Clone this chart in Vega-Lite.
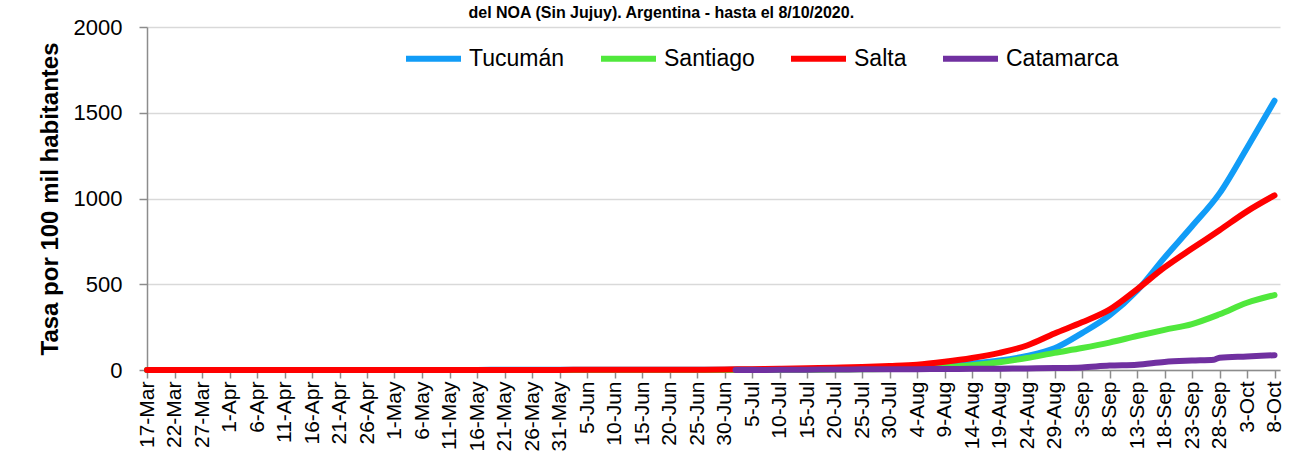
{
  "$schema": "https://vega.github.io/schema/vega-lite/v6.json",
  "autosize": {"type": "none"},
  "width": 1133,
  "height": 343,
  "padding": {"left": 147, "top": 27, "right": 10, "bottom": 88},
  "background": "white",
  "title": {
    "text": "del NOA (Sin Jujuy). Argentina - hasta el 8/10/2020.",
    "anchor": "middle",
    "frame": "bounds",
    "orient": "top",
    "font": "Liberation Sans",
    "fontSize": 16,
    "fontWeight": "bold",
    "color": "#000000",
    "baseline": "bottom",
    "offset": -21
  },
  "config": {
    "view": {"stroke": null},
    "font": "Liberation Sans"
  },
  "data": {
    "values": [
      {"fecha": "2020-03-17", "provincia": "Tucumán", "tasa": 0},
      {"fecha": "2020-03-22", "provincia": "Tucumán", "tasa": 0.1},
      {"fecha": "2020-03-27", "provincia": "Tucumán", "tasa": 0.2},
      {"fecha": "2020-04-01", "provincia": "Tucumán", "tasa": 0.3},
      {"fecha": "2020-04-06", "provincia": "Tucumán", "tasa": 0.4},
      {"fecha": "2020-04-11", "provincia": "Tucumán", "tasa": 0.5},
      {"fecha": "2020-04-16", "provincia": "Tucumán", "tasa": 0.5},
      {"fecha": "2020-04-21", "provincia": "Tucumán", "tasa": 0.6},
      {"fecha": "2020-04-26", "provincia": "Tucumán", "tasa": 0.6},
      {"fecha": "2020-05-01", "provincia": "Tucumán", "tasa": 0.6},
      {"fecha": "2020-05-06", "provincia": "Tucumán", "tasa": 0.7},
      {"fecha": "2020-05-11", "provincia": "Tucumán", "tasa": 0.7},
      {"fecha": "2020-05-16", "provincia": "Tucumán", "tasa": 0.7},
      {"fecha": "2020-05-21", "provincia": "Tucumán", "tasa": 0.8},
      {"fecha": "2020-05-26", "provincia": "Tucumán", "tasa": 0.8},
      {"fecha": "2020-05-31", "provincia": "Tucumán", "tasa": 0.9},
      {"fecha": "2020-06-05", "provincia": "Tucumán", "tasa": 1},
      {"fecha": "2020-06-10", "provincia": "Tucumán", "tasa": 1},
      {"fecha": "2020-06-15", "provincia": "Tucumán", "tasa": 1.1},
      {"fecha": "2020-06-20", "provincia": "Tucumán", "tasa": 1.3},
      {"fecha": "2020-06-25", "provincia": "Tucumán", "tasa": 1.5},
      {"fecha": "2020-06-30", "provincia": "Tucumán", "tasa": 2},
      {"fecha": "2020-07-05", "provincia": "Tucumán", "tasa": 3},
      {"fecha": "2020-07-10", "provincia": "Tucumán", "tasa": 4},
      {"fecha": "2020-07-15", "provincia": "Tucumán", "tasa": 5},
      {"fecha": "2020-07-20", "provincia": "Tucumán", "tasa": 7},
      {"fecha": "2020-07-25", "provincia": "Tucumán", "tasa": 9},
      {"fecha": "2020-07-30", "provincia": "Tucumán", "tasa": 12},
      {"fecha": "2020-08-04", "provincia": "Tucumán", "tasa": 18},
      {"fecha": "2020-08-09", "provincia": "Tucumán", "tasa": 27},
      {"fecha": "2020-08-14", "provincia": "Tucumán", "tasa": 38},
      {"fecha": "2020-08-19", "provincia": "Tucumán", "tasa": 55},
      {"fecha": "2020-08-24", "provincia": "Tucumán", "tasa": 82},
      {"fecha": "2020-08-29", "provincia": "Tucumán", "tasa": 126},
      {"fecha": "2020-09-03", "provincia": "Tucumán", "tasa": 215},
      {"fecha": "2020-09-08", "provincia": "Tucumán", "tasa": 318},
      {"fecha": "2020-09-13", "provincia": "Tucumán", "tasa": 462},
      {"fecha": "2020-09-18", "provincia": "Tucumán", "tasa": 655},
      {"fecha": "2020-09-23", "provincia": "Tucumán", "tasa": 838},
      {"fecha": "2020-09-28", "provincia": "Tucumán", "tasa": 1030},
      {"fecha": "2020-10-03", "provincia": "Tucumán", "tasa": 1295},
      {"fecha": "2020-10-08", "provincia": "Tucumán", "tasa": 1570},

      {"fecha": "2020-03-17", "provincia": "Santiago", "tasa": 0},
      {"fecha": "2020-04-16", "provincia": "Santiago", "tasa": 0.1},
      {"fecha": "2020-05-16", "provincia": "Santiago", "tasa": 0.2},
      {"fecha": "2020-06-15", "provincia": "Santiago", "tasa": 0.2},
      {"fecha": "2020-06-30", "provincia": "Santiago", "tasa": 0.3},
      {"fecha": "2020-07-05", "provincia": "Santiago", "tasa": 0.5},
      {"fecha": "2020-07-10", "provincia": "Santiago", "tasa": 1},
      {"fecha": "2020-07-15", "provincia": "Santiago", "tasa": 1.5},
      {"fecha": "2020-07-20", "provincia": "Santiago", "tasa": 2.5},
      {"fecha": "2020-07-25", "provincia": "Santiago", "tasa": 4},
      {"fecha": "2020-07-30", "provincia": "Santiago", "tasa": 6},
      {"fecha": "2020-08-04", "provincia": "Santiago", "tasa": 10},
      {"fecha": "2020-08-09", "provincia": "Santiago", "tasa": 17},
      {"fecha": "2020-08-14", "provincia": "Santiago", "tasa": 28},
      {"fecha": "2020-08-19", "provincia": "Santiago", "tasa": 45},
      {"fecha": "2020-08-24", "provincia": "Santiago", "tasa": 70},
      {"fecha": "2020-08-29", "provincia": "Santiago", "tasa": 100},
      {"fecha": "2020-09-03", "provincia": "Santiago", "tasa": 128},
      {"fecha": "2020-09-08", "provincia": "Santiago", "tasa": 160},
      {"fecha": "2020-09-13", "provincia": "Santiago", "tasa": 198},
      {"fecha": "2020-09-18", "provincia": "Santiago", "tasa": 234},
      {"fecha": "2020-09-23", "provincia": "Santiago", "tasa": 268},
      {"fecha": "2020-09-28", "provincia": "Santiago", "tasa": 325},
      {"fecha": "2020-10-03", "provincia": "Santiago", "tasa": 392},
      {"fecha": "2020-10-08", "provincia": "Santiago", "tasa": 437},

      {"fecha": "2020-03-17", "provincia": "Salta", "tasa": 0},
      {"fecha": "2020-03-22", "provincia": "Salta", "tasa": 0.1},
      {"fecha": "2020-03-27", "provincia": "Salta", "tasa": 0.2},
      {"fecha": "2020-04-01", "provincia": "Salta", "tasa": 0.3},
      {"fecha": "2020-04-06", "provincia": "Salta", "tasa": 0.4},
      {"fecha": "2020-04-11", "provincia": "Salta", "tasa": 0.4},
      {"fecha": "2020-04-16", "provincia": "Salta", "tasa": 0.5},
      {"fecha": "2020-04-21", "provincia": "Salta", "tasa": 0.5},
      {"fecha": "2020-04-26", "provincia": "Salta", "tasa": 0.5},
      {"fecha": "2020-05-01", "provincia": "Salta", "tasa": 0.5},
      {"fecha": "2020-05-06", "provincia": "Salta", "tasa": 0.6},
      {"fecha": "2020-05-11", "provincia": "Salta", "tasa": 0.6},
      {"fecha": "2020-05-16", "provincia": "Salta", "tasa": 0.6},
      {"fecha": "2020-05-21", "provincia": "Salta", "tasa": 0.6},
      {"fecha": "2020-05-26", "provincia": "Salta", "tasa": 0.7},
      {"fecha": "2020-05-31", "provincia": "Salta", "tasa": 0.7},
      {"fecha": "2020-06-05", "provincia": "Salta", "tasa": 0.8},
      {"fecha": "2020-06-10", "provincia": "Salta", "tasa": 0.9},
      {"fecha": "2020-06-15", "provincia": "Salta", "tasa": 1},
      {"fecha": "2020-06-20", "provincia": "Salta", "tasa": 1.2},
      {"fecha": "2020-06-25", "provincia": "Salta", "tasa": 1.5},
      {"fecha": "2020-06-30", "provincia": "Salta", "tasa": 3},
      {"fecha": "2020-07-05", "provincia": "Salta", "tasa": 5},
      {"fecha": "2020-07-10", "provincia": "Salta", "tasa": 7},
      {"fecha": "2020-07-15", "provincia": "Salta", "tasa": 10},
      {"fecha": "2020-07-20", "provincia": "Salta", "tasa": 13},
      {"fecha": "2020-07-25", "provincia": "Salta", "tasa": 17},
      {"fecha": "2020-07-30", "provincia": "Salta", "tasa": 23},
      {"fecha": "2020-08-04", "provincia": "Salta", "tasa": 31},
      {"fecha": "2020-08-09", "provincia": "Salta", "tasa": 48},
      {"fecha": "2020-08-14", "provincia": "Salta", "tasa": 70},
      {"fecha": "2020-08-19", "provincia": "Salta", "tasa": 100},
      {"fecha": "2020-08-24", "provincia": "Salta", "tasa": 143},
      {"fecha": "2020-08-29", "provincia": "Salta", "tasa": 213},
      {"fecha": "2020-09-03", "provincia": "Salta", "tasa": 278},
      {"fecha": "2020-09-08", "provincia": "Salta", "tasa": 352},
      {"fecha": "2020-09-13", "provincia": "Salta", "tasa": 470},
      {"fecha": "2020-09-18", "provincia": "Salta", "tasa": 598},
      {"fecha": "2020-09-23", "provincia": "Salta", "tasa": 708},
      {"fecha": "2020-09-28", "provincia": "Salta", "tasa": 815},
      {"fecha": "2020-10-03", "provincia": "Salta", "tasa": 925},
      {"fecha": "2020-10-08", "provincia": "Salta", "tasa": 1018},

      {"fecha": "2020-07-02", "provincia": "Catamarca", "tasa": 0.3},
      {"fecha": "2020-07-05", "provincia": "Catamarca", "tasa": 0.5},
      {"fecha": "2020-07-10", "provincia": "Catamarca", "tasa": 1},
      {"fecha": "2020-07-15", "provincia": "Catamarca", "tasa": 2},
      {"fecha": "2020-07-20", "provincia": "Catamarca", "tasa": 3},
      {"fecha": "2020-07-25", "provincia": "Catamarca", "tasa": 4},
      {"fecha": "2020-07-30", "provincia": "Catamarca", "tasa": 4.5},
      {"fecha": "2020-08-04", "provincia": "Catamarca", "tasa": 5},
      {"fecha": "2020-08-09", "provincia": "Catamarca", "tasa": 6},
      {"fecha": "2020-08-14", "provincia": "Catamarca", "tasa": 7},
      {"fecha": "2020-08-19", "provincia": "Catamarca", "tasa": 8},
      {"fecha": "2020-08-24", "provincia": "Catamarca", "tasa": 9},
      {"fecha": "2020-08-29", "provincia": "Catamarca", "tasa": 11},
      {"fecha": "2020-09-03", "provincia": "Catamarca", "tasa": 15},
      {"fecha": "2020-09-08", "provincia": "Catamarca", "tasa": 26},
      {"fecha": "2020-09-13", "provincia": "Catamarca", "tasa": 31},
      {"fecha": "2020-09-18", "provincia": "Catamarca", "tasa": 47},
      {"fecha": "2020-09-23", "provincia": "Catamarca", "tasa": 55},
      {"fecha": "2020-09-27", "provincia": "Catamarca", "tasa": 60},
      {"fecha": "2020-09-28", "provincia": "Catamarca", "tasa": 72},
      {"fecha": "2020-10-03", "provincia": "Catamarca", "tasa": 79},
      {"fecha": "2020-10-08", "provincia": "Catamarca", "tasa": 86}
    ]
  },
  "mark": {"type": "line", "strokeWidth": 6, "strokeCap": "round", "strokeJoin": "round", "interpolate": "monotone"},
  "encoding": {
    "x": {
      "field": "fecha",
      "type": "temporal",
      "scale": {
        "type": "utc",
        "nice": false,
        "domain": [
          {"year": 2020, "month": 3, "date": 17, "utc": true},
          {"year": 2020, "month": 10, "date": 9, "utc": true}
        ]
      },
      "axis": {
        "title": null,
        "values": [
          {"year": 2020, "month": 3, "date": 17, "utc": true},
          {"year": 2020, "month": 3, "date": 22, "utc": true},
          {"year": 2020, "month": 3, "date": 27, "utc": true},
          {"year": 2020, "month": 4, "date": 1, "utc": true},
          {"year": 2020, "month": 4, "date": 6, "utc": true},
          {"year": 2020, "month": 4, "date": 11, "utc": true},
          {"year": 2020, "month": 4, "date": 16, "utc": true},
          {"year": 2020, "month": 4, "date": 21, "utc": true},
          {"year": 2020, "month": 4, "date": 26, "utc": true},
          {"year": 2020, "month": 5, "date": 1, "utc": true},
          {"year": 2020, "month": 5, "date": 6, "utc": true},
          {"year": 2020, "month": 5, "date": 11, "utc": true},
          {"year": 2020, "month": 5, "date": 16, "utc": true},
          {"year": 2020, "month": 5, "date": 21, "utc": true},
          {"year": 2020, "month": 5, "date": 26, "utc": true},
          {"year": 2020, "month": 5, "date": 31, "utc": true},
          {"year": 2020, "month": 6, "date": 5, "utc": true},
          {"year": 2020, "month": 6, "date": 10, "utc": true},
          {"year": 2020, "month": 6, "date": 15, "utc": true},
          {"year": 2020, "month": 6, "date": 20, "utc": true},
          {"year": 2020, "month": 6, "date": 25, "utc": true},
          {"year": 2020, "month": 6, "date": 30, "utc": true},
          {"year": 2020, "month": 7, "date": 5, "utc": true},
          {"year": 2020, "month": 7, "date": 10, "utc": true},
          {"year": 2020, "month": 7, "date": 15, "utc": true},
          {"year": 2020, "month": 7, "date": 20, "utc": true},
          {"year": 2020, "month": 7, "date": 25, "utc": true},
          {"year": 2020, "month": 7, "date": 30, "utc": true},
          {"year": 2020, "month": 8, "date": 4, "utc": true},
          {"year": 2020, "month": 8, "date": 9, "utc": true},
          {"year": 2020, "month": 8, "date": 14, "utc": true},
          {"year": 2020, "month": 8, "date": 19, "utc": true},
          {"year": 2020, "month": 8, "date": 24, "utc": true},
          {"year": 2020, "month": 8, "date": 29, "utc": true},
          {"year": 2020, "month": 9, "date": 3, "utc": true},
          {"year": 2020, "month": 9, "date": 8, "utc": true},
          {"year": 2020, "month": 9, "date": 13, "utc": true},
          {"year": 2020, "month": 9, "date": 18, "utc": true},
          {"year": 2020, "month": 9, "date": 23, "utc": true},
          {"year": 2020, "month": 9, "date": 28, "utc": true},
          {"year": 2020, "month": 10, "date": 3, "utc": true},
          {"year": 2020, "month": 10, "date": 8, "utc": true}
        ],
        "labelExpr": "utcFormat(datum.value, '%-d-%b')",
        "labelAngle": -90,
        "labelAlign": "right",
        "labelBaseline": "middle",
        "labelFont": "Liberation Sans",
        "labelFontSize": 21,
        "labelColor": "#000000",
        "labelPadding": 3,
        "labelOverlap": false,
        "labelFlush": false,
        "tickSize": 8,
        "tickColor": "#8C8C8C",
        "tickWidth": 1.5,
        "domainColor": "#8C8C8C",
        "domainWidth": 1.5,
        "grid": false
      }
    },
    "y": {
      "field": "tasa",
      "type": "quantitative",
      "scale": {"domain": [0, 2000], "nice": false},
      "axis": {
        "title": "Tasa por 100 mil habitantes",
        "titleFont": "Liberation Sans",
        "titleFontSize": 24,
        "titleFontWeight": "bold",
        "titleColor": "#000000",
        "titlePadding": 11,
        "values": [0, 500, 1000, 1500, 2000],
        "format": "d",
        "labelFont": "Liberation Sans",
        "labelFontSize": 22,
        "labelColor": "#000000",
        "labelPadding": 17,
        "labelFlush": false,
        "tickSize": 8,
        "tickColor": "#8C8C8C",
        "tickWidth": 1.5,
        "domainColor": "#8C8C8C",
        "domainWidth": 1.5,
        "gridColor": "#D9D9D9",
        "gridWidth": 1.5
      }
    },
    "color": {
      "field": "provincia",
      "type": "nominal",
      "sort": ["Tucumán", "Santiago", "Salta", "Catamarca"],
      "scale": {
        "domain": ["Tucumán", "Santiago", "Salta", "Catamarca"],
        "range": ["#119CF7", "#50E83C", "#FF0000", "#7030A0"]
      },
      "legend": {
        "title": null,
        "orient": "none",
        "direction": "horizontal",
        "legendX": 256,
        "legendY": 1,
        "symbolType": "stroke",
        "symbolSize": 3025,
        "symbolStrokeWidth": 6,
        "labelFont": "Liberation Sans",
        "labelFontSize": 23,
        "labelColor": "#000000",
        "labelOffset": 5,
        "columnPadding": 24,
        "padding": 0
      }
    }
  }
}
